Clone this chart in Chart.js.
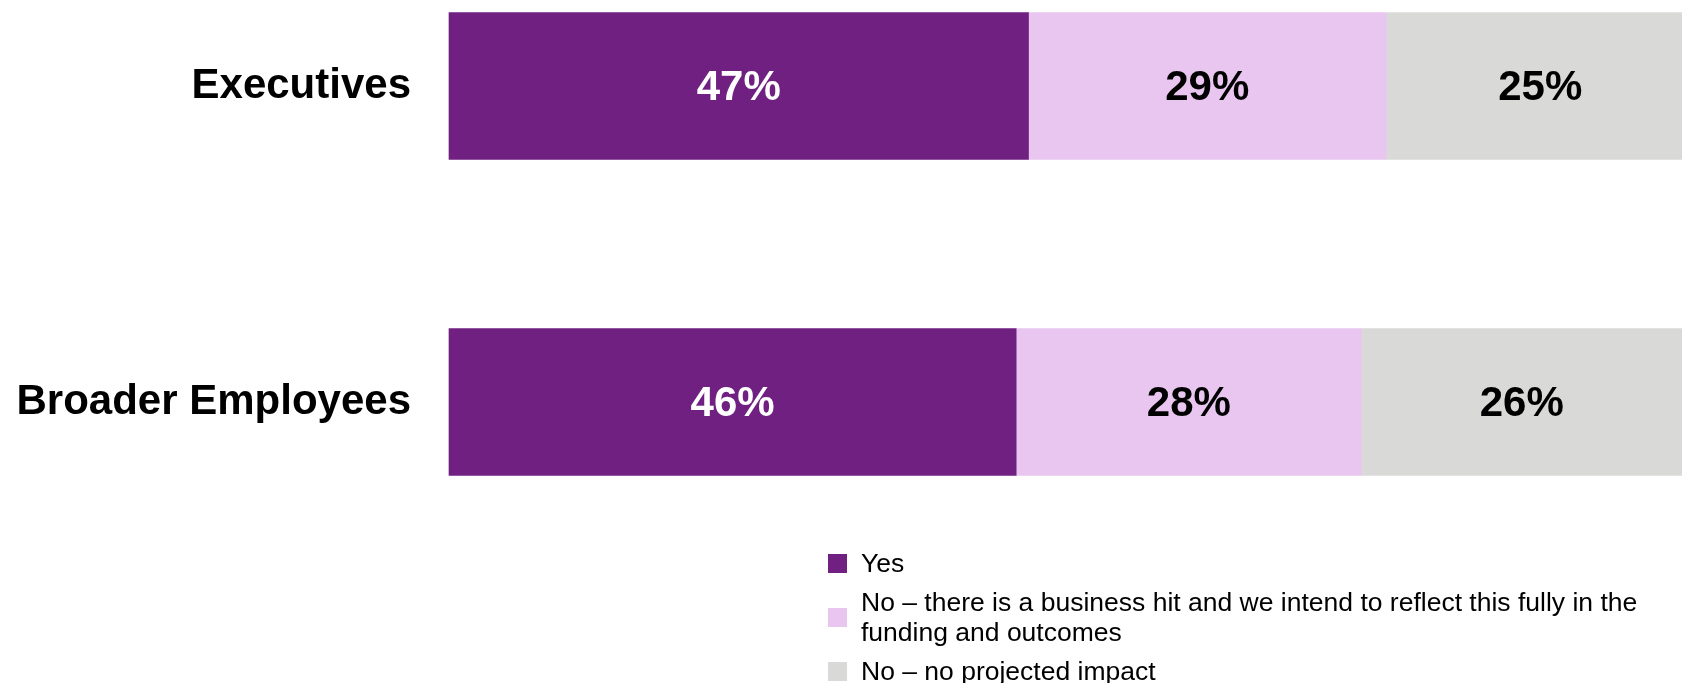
<!DOCTYPE html>
<html>
<head>
<meta charset="utf-8">
<script src="https://cdn.jsdelivr.net/npm/chart.js@4/dist/chart.umd.min.js"></script>
<style>
  body { margin: 0; background: #fff; }
  #wrap { position: relative; width: 1682px; height: 683px; overflow: hidden; }
  #legend { position: absolute; left: 828px; top: 548px; font-family: "Liberation Sans", Arial, sans-serif; font-size: 26.5px; line-height: 30px; color: #000; }
  .item { display: flex; align-items: center; margin-bottom: 9px; }
  .box { width: 19px; height: 19px; flex: none; margin-right: 14px; }
  .txt { width: 800px; }
</style>
</head>
<body>
<div id="wrap">
  <canvas id="impactChart" width="1682" height="683"></canvas>
  <div id="legend"></div>
</div>
<script>
// categories and series
const categories = ['Executives', 'Broader Employees'];
const seriesNames = [
  'Yes',
  'No – there is a business hit and we intend to reflect this fully in the funding and outcomes',
  'No – no projected impact'
];
const yesValues = [47, 46];
const hitValues = [29, 28];
const noImpactValues = [25, 26];

const colors = ['#6f2081', '#e9c6ef', '#d9dad8'];
const labelColors = ['#ffffff', '#000000', '#000000'];

// percentage text in the middle of every segment
const barLabels = {
  id: 'barLabels',
  afterDatasetsDraw(chart) {
    const ctx = chart.ctx;
    ctx.save();
    ctx.font = 'bold 42px "Liberation Sans", Arial, sans-serif';
    ctx.textAlign = 'center';
    ctx.textBaseline = 'middle';
    chart.data.datasets.forEach(function(ds, i) {
      chart.getDatasetMeta(i).data.forEach(function(bar, j) {
        const c = bar.getCenterPoint();
        ctx.fillStyle = labelColors[i];
        ctx.fillText(ds.data[j] + '%', c.x, c.y + 2);
      });
    });
    ctx.restore();
  }
};

const allValues = [yesValues, hitValues, noImpactValues];

const config = {
  type: 'bar',
  data: {
    labels: categories,
    datasets: seriesNames.map(function(name, i) {
      return {
        label: name,
        data: allValues[i],
        backgroundColor: colors[i],
        borderWidth: 0,
        barThickness: 147,
        clip: false
      };
    })
  },
  options: {
    indexAxis: 'y',
    responsive: false,
    animation: false,
    layout: {
      padding: { top: 86, bottom: 281, left: 0, right: 0 }
    },
    scales: {
      x: {
        stacked: true,
        display: false,
        min: 0,
        max: 100
      },
      y: {
        stacked: true,
        offset: false,
        grid: { display: false, drawTicks: false },
        border: { display: false },
        ticks: {
          color: '#000',
          padding: 38,
          font: { family: '"Liberation Sans", Arial, sans-serif', size: 42, weight: 'bold' }
        },
        afterFit: function(scale) {
          scale.width = 449;
        }
      }
    },
    plugins: {
      legend: { display: false },
      tooltip: { enabled: false }
    }
  },
  plugins: [barLabels]
};

const chart = new Chart(document.getElementById('impactChart'), config);

// legend list built from the datasets
const legend = document.getElementById('legend');
chart.data.datasets.forEach(function(ds) {
  const item = document.createElement('div');
  item.className = 'item';
  const box = document.createElement('span');
  box.className = 'box';
  box.style.background = ds.backgroundColor;
  const txt = document.createElement('span');
  txt.className = 'txt';
  txt.textContent = ds.label;
  item.appendChild(box);
  item.appendChild(txt);
  legend.appendChild(item);
});
</script>
</body>
</html>
